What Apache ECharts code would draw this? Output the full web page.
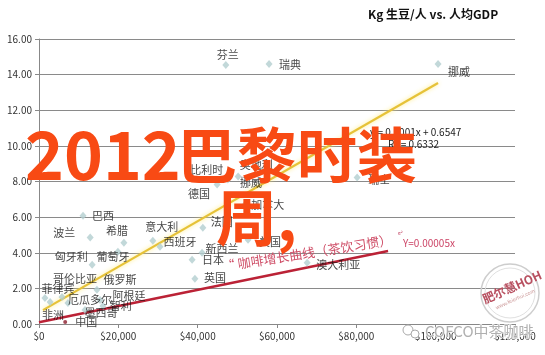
<!DOCTYPE html>
<html><head><meta charset="utf-8">
<script src="https://cdn.jsdelivr.net/npm/echarts@6/dist/echarts.min.js"></script>
<style>html,body{margin:0;padding:0;background:#fff}#c{width:545px;height:355px}</style>
</head><body><div id="c"></div>
<script>
// ---- data ----
const countries = ['芬兰','瑞典','挪威','瑞士','奥地利','比利时','挪威','德国','加拿大','法国','美国','意大利','西班牙','新西兰','日本','英国','澳大利亚','巴西','波兰','希腊','葡萄牙','匈牙利','俄罗斯','哥伦比亚','菲律宾','厄瓜多尔','阿根廷','智利','墨西哥','非洲'];
const gdpPerCapita = [47100,58000,100600,80200,50200,47600,56200,44900,51900,41300,52700,28700,30500,41100,38600,39300,67600,11100,12900,21400,19900,13400,14600,5800,1500,7300,15400,16100,11600,2800];
const kgPerPerson = [14.54,14.59,14.59,8.23,8.28,8.11,8.56,7.83,6.70,5.41,4.73,4.68,4.34,4.00,3.61,2.54,3.44,6.08,4.85,4.56,4.06,3.32,1.92,1.52,1.46,1.18,1.35,1.01,0.79,1.24];
const chinaName = ['中国'];
const chinaGdp = [6600];
const chinaKg = [0.11];
const teaTrendX = [1000, 100600];
const teaTrendY = [0.78, 13.53];
const coffeeTrendX = [0, 88000];
const coffeeTrendY = [0.1, 4.1];
const yTicks = [0,2,4,6,8,10,12,14,16];
const xTicks = [0,20000,40000,60000,80000,100000,120000];

// ---- label placement (style only) ----
const labelOffsets = [[2,-10],[21,1],[21,8],[22,2],[18,-12],[-21,-10],[-11,11],[-18,9],[23,0],[19,-6],[22,2],[9,-14],[20,-5],[20,-4],[21,0],[20,-1],[31,2],[20,0],[-26,-5],[-7,-12],[-5,5],[-21,-8],[23,-10],[13,-18],[13,-9],[22,-3],[29,-4],[18,0],[16,3],[3,13]];

const chart = echarts.init(document.getElementById('c'), null, {renderer:'canvas'});
const FF = '"Noto Sans CJK SC","Noto Sans",sans-serif';

const pts = countries.map((n,i)=>({
  value:[gdpPerCapita[i], kgPerPerson[i]],
  name:n,
  label:{offset:labelOffsets[i]}
}));

const option = {
  animation:false,
  backgroundColor:'#fff',
  grid:{left:39,right:30,top:39,bottom:31},
  xAxis:{
    type:'value',min:xTicks[0],max:xTicks[xTicks.length-1],interval:20000,
    axisLine:{show:true,lineStyle:{color:'#888'}},
    axisTick:{show:true,length:4,lineStyle:{color:'#888'}},
    splitLine:{show:false},
    axisLabel:{fontSize:10,color:'#333',fontFamily:FF,margin:7,
      formatter:v=>'$'+v.toLocaleString('en-US')}
  },
  yAxis:{
    type:'value',min:yTicks[0],max:yTicks[yTicks.length-1],interval:2,
    axisLine:{show:true,lineStyle:{color:'#888'}},
    axisTick:{show:true,length:4,lineStyle:{color:'#888'}},
    splitLine:{show:true,lineStyle:{color:'#8a8a8a',width:1}},
    axisLabel:{fontSize:10,color:'#333',fontFamily:FF,margin:7,formatter:v=>v.toFixed(2)}
  },
  series:[
    {type:'line',data:teaTrendX.map((x,i)=>[x,teaTrendY[i]]),showSymbol:false,z:3,
     lineStyle:{color:'#e6c238',width:2.2,shadowColor:'rgba(255,235,120,0.9)',shadowBlur:4}},
    {type:'line',data:coffeeTrendX.map((x,i)=>[x,coffeeTrendY[i]]),showSymbol:false,z:3,
     lineStyle:{color:'#bb2236',width:2.6}},
    {type:'scatter',data:pts,symbol:'diamond',symbolSize:[7,8],z:4,
     itemStyle:{color:'#b3ced0'},
     label:{show:true,position:'inside',formatter:p=>p.name,color:'#111',fontSize:11,fontFamily:FF,align:'center',verticalAlign:'middle'}},
    {type:'scatter',data:chinaName.map((n,i)=>({value:[chinaGdp[i],chinaKg[i]],name:n})),symbol:'circle',symbolSize:4,z:5,
     itemStyle:{color:'#8b1d2c'},
     label:{show:true,position:'inside',offset:[21,0],formatter:p=>p.name,color:'#111',fontSize:11,fontFamily:FF}}
  ],
  graphic:[
    {type:'text',left:368,top:8,z:10,style:{text:'Kg 生豆/人 vs. 人均GDP',font:'bold 12px '+FF,fill:'#111'}},
    {type:'text',x:370,y:132,z:10,style:{text:'y = 0.0001x + 0.6547',font:'10px '+FF,fill:'#222',verticalAlign:'middle'}},
    {type:'text',x:388,y:144,z:10,style:{text:'R² = 0.6332',font:'10px '+FF,fill:'#222',verticalAlign:'middle'}},
    {type:'text',x:398,y:233,z:10,style:{text:'e²',font:'5px '+FF,fill:'#c04060',verticalAlign:'middle'}},
    {type:'text',x:403,y:243,z:10,style:{text:'Y=0.00005x',font:'10px '+FF,fill:'#cc4466',verticalAlign:'middle'}},
    {type:'text',x:307,y:253,rotation:0.155,z:10,style:{text:'“ 咖啡增长曲线（茶饮习惯）',font:'13px '+FF,fill:'#cf4f68',align:'center',verticalAlign:'middle'}},
    // stamp watermark
    {type:'circle',shape:{cx:510,cy:293,r:29},z:9,style:{fill:'none',stroke:'#cdcdcd',lineWidth:1.5}},
    {type:'circle',shape:{cx:510,cy:293,r:25},z:9,style:{fill:'none',stroke:'#e0e0e0',lineWidth:1}},
    {type:'text',x:512,y:287,rotation:0.42,z:10,style:{text:'肥尔慧HOH',font:'bold 12px '+FF,fill:'#b85060',align:'center',verticalAlign:'middle'}},
    {type:'text',x:515,y:299,rotation:0.42,z:10,style:{text:'www.feierhui.com',font:'5px '+FF,fill:'#c99',align:'center',verticalAlign:'middle'}},
    // wechat watermark
    {type:'circle',shape:{cx:408,cy:330,r:5},z:9,style:{fill:'#fff',stroke:'#aaa',lineWidth:1}},
    {type:'circle',shape:{cx:415,cy:334,r:4},z:9,style:{fill:'#fff',stroke:'#aaa',lineWidth:1}},
    {type:'text',x:425,y:331,z:10,style:{text:'COFCO中茶咖啡',font:'15px '+FF,fill:'#b0b0b0',stroke:'#fff',lineWidth:1,verticalAlign:'middle'}},
    // big overlay text
    {type:'text',x:25,y:155,z:20,style:{text:'2012',font:'bold 66px '+FF,fill:'#f84a14',verticalAlign:'middle'}},
    {type:'text',x:177,y:155,z:20,style:{text:'巴黎时装',font:'bold 60px '+FF,fill:'#f84a14',verticalAlign:'middle'}},
    {type:'text',x:216,y:218,z:20,style:{text:'周,',font:'bold 61px '+FF,fill:'#f84a14',verticalAlign:'middle'}}
  ]
};
chart.setOption(option);
</script></body></html>
